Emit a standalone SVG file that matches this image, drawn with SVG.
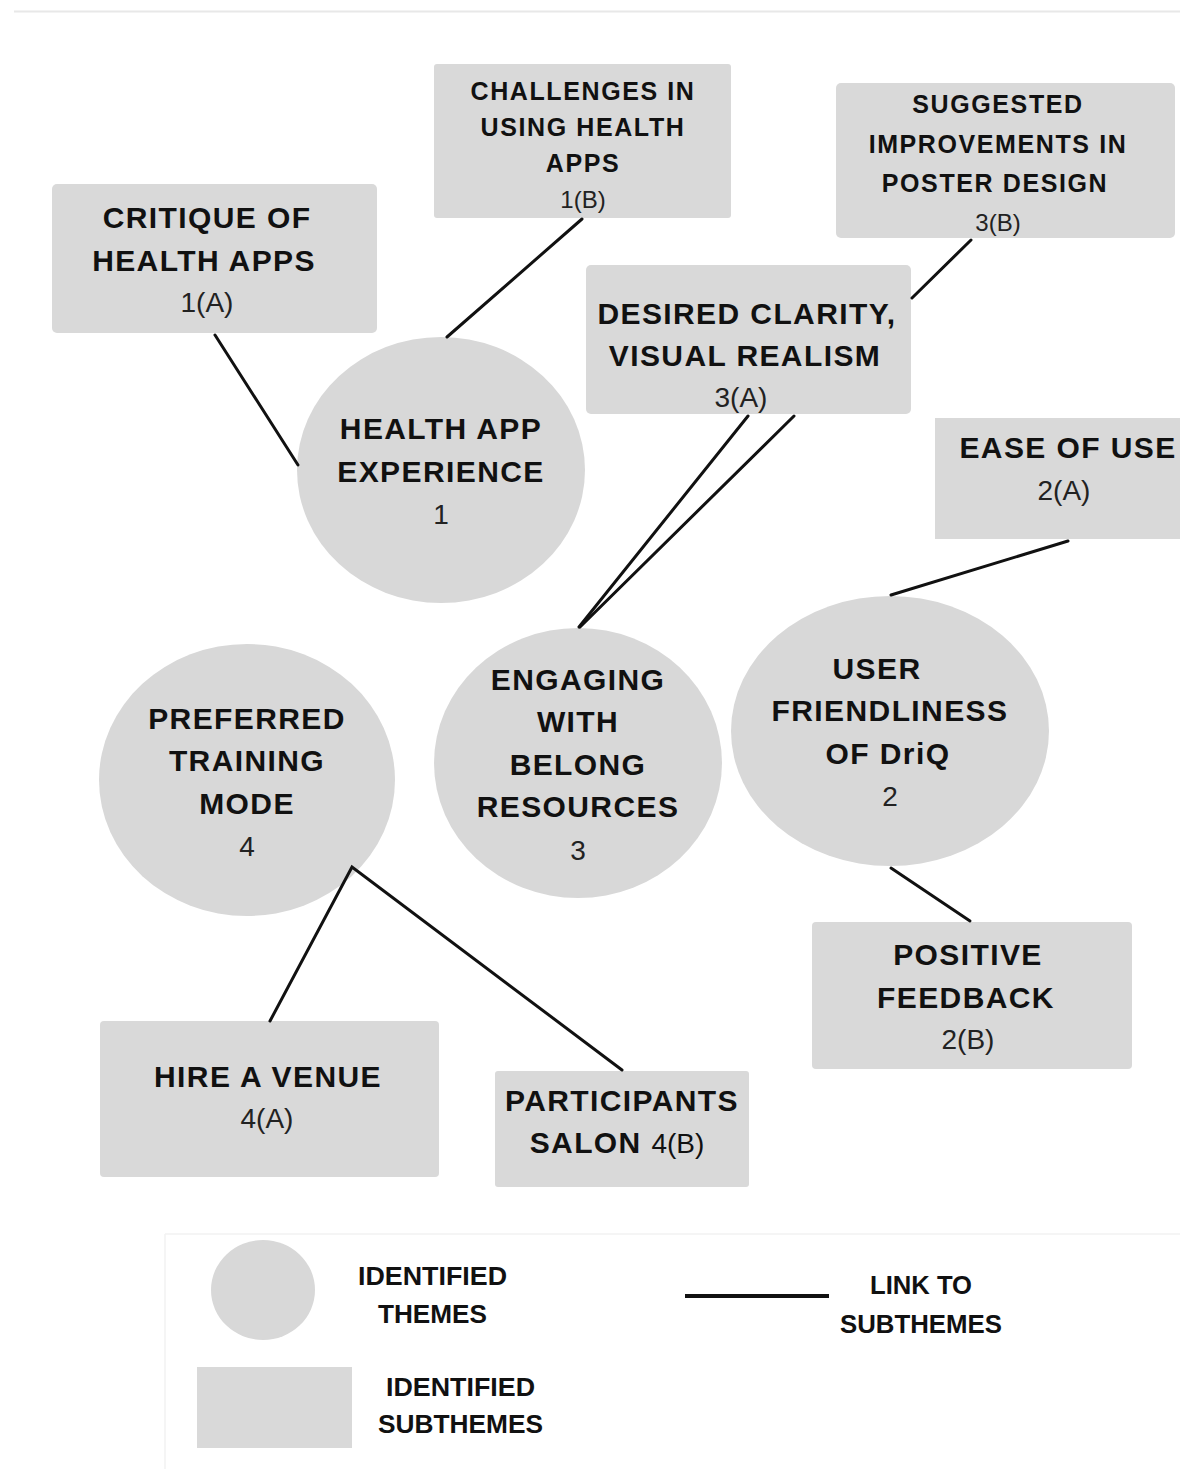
<svg xmlns="http://www.w3.org/2000/svg" width="1180" height="1469" viewBox="0 0 1180 1469">
<style>
.box{fill:#d9d9d9}
.th{fill:#d8d8d8}
.t{font-family:"Liberation Sans",Arial,sans-serif;font-weight:bold;font-size:30px;fill:#111;text-anchor:middle;letter-spacing:1.4px}
.ts{font-family:"Liberation Sans",Arial,sans-serif;font-weight:bold;font-size:25px;fill:#111;text-anchor:middle;letter-spacing:1.6px}
.n{font-family:"Liberation Sans",Arial,sans-serif;font-size:28px;fill:#222;text-anchor:middle}
.ns{font-family:"Liberation Sans",Arial,sans-serif;font-size:24px;fill:#222;text-anchor:middle}
.lg{font-family:"Liberation Sans",Arial,sans-serif;font-weight:bold;font-size:26px;fill:#111}
.ln{stroke:#111;stroke-width:3;fill:none;stroke-linecap:round;stroke-linejoin:miter}
</style>
<rect width="1180" height="1469" fill="#fff"/>
<line x1="14" y1="11.5" x2="1180" y2="11.5" stroke="#e8e8e8" stroke-width="2"/>

<g id="sub1A">
<rect class="box" x="52" y="184" width="325" height="149" rx="5"/>
<text class="t" x="207" y="228">CRITIQUE OF</text>
<text class="t" x="204" y="271">HEALTH APPS</text>
<text class="n" x="207" y="312">1(A)</text>
</g>
<g id="sub1B">
<rect class="box" x="434" y="64" width="297" height="154" rx="3"/>
<text class="ts" x="583" y="100">CHALLENGES IN</text>
<text class="ts" x="583" y="136">USING HEALTH</text>
<text class="ts" x="583" y="172">APPS</text>
<text class="ns" x="583" y="208">1(B)</text>
</g>
<g id="sub3B">
<rect class="box" x="836" y="83" width="339" height="155" rx="5"/>
<text class="ts" x="998" y="113">SUGGESTED</text>
<text class="ts" x="998" y="153">IMPROVEMENTS IN</text>
<text class="ts" x="995" y="192">POSTER DESIGN</text>
<text class="ns" x="998" y="231">3(B)</text>
</g>
<g id="sub3A">
<rect class="box" x="586" y="265" width="325" height="149" rx="5"/>
<text class="t" x="747" y="324">DESIRED CLARITY,</text>
<text class="t" x="745" y="366">VISUAL REALISM</text>
<text class="n" x="741" y="407">3(A)</text>
</g>
<g id="sub2A">
<rect class="box" x="935" y="418" width="245" height="121"/>
<text class="t" x="1068" y="458">EASE OF USE</text>
<text class="n" x="1064" y="500">2(A)</text>
</g>
<g id="sub2B">
<rect class="box" x="812" y="922" width="320" height="147" rx="4"/>
<text class="t" x="968" y="965">POSITIVE</text>
<text class="t" x="966" y="1008">FEEDBACK</text>
<text class="n" x="968" y="1049">2(B)</text>
</g>
<g id="sub4A">
<rect class="box" x="100" y="1021" width="339" height="156" rx="4"/>
<text class="t" x="268" y="1087">HIRE A VENUE</text>
<text class="n" x="267" y="1128">4(A)</text>
</g>
<g id="sub4B">
<rect class="box" x="495" y="1071" width="254" height="116" rx="3"/>
<text class="t" x="622" y="1111">PARTICIPANTS</text>
<text class="t" x="617" y="1153">SALON <tspan style="font-weight:normal;font-size:28px;letter-spacing:0">4(B)</tspan></text>
</g>

<g id="theme1">
<ellipse class="th" cx="441" cy="470" rx="144" ry="133"/>
<text class="t" x="441" y="439">HEALTH APP</text>
<text class="t" x="441" y="482">EXPERIENCE</text>
<text class="n" x="441" y="524">1</text>
</g>
<g id="theme3">
<ellipse class="th" cx="578" cy="763" rx="144" ry="135"/>
<text class="t" x="578" y="690">ENGAGING</text>
<text class="t" x="578" y="732">WITH</text>
<text class="t" x="578" y="775">BELONG</text>
<text class="t" x="578" y="817">RESOURCES</text>
<text class="n" x="578" y="860">3</text>
</g>
<g id="theme2">
<ellipse class="th" cx="890" cy="731" rx="159" ry="135"/>
<text class="t" x="877" y="679">USER</text>
<text class="t" x="890" y="721">FRIENDLINESS</text>
<text class="t" x="888" y="764">OF DriQ</text>
<text class="n" x="890" y="806">2</text>
</g>
<g id="theme4">
<ellipse class="th" cx="247" cy="780" rx="148" ry="136"/>
<text class="t" x="247" y="729">PREFERRED</text>
<text class="t" x="247" y="771">TRAINING</text>
<text class="t" x="247" y="814">MODE</text>
<text class="n" x="247" y="856">4</text>
</g>

<g id="connectors">
<line class="ln" x1="215" y1="335" x2="298" y2="465"/>
<line class="ln" x1="582" y1="219" x2="447" y2="337"/>
<line class="ln" x1="971" y1="240" x2="912" y2="298"/>
<line class="ln" x1="748" y1="416" x2="579" y2="627"/>
<line class="ln" x1="794" y1="416" x2="580" y2="627"/>
<line class="ln" x1="1068" y1="541" x2="891" y2="595"/>
<line class="ln" x1="891" y1="868" x2="970" y2="921"/>
<polyline class="ln" points="270,1021 352,867 622,1070"/>
</g>

<g id="legend">
<line x1="165" y1="1234" x2="1180" y2="1234" stroke="#f2f2f2" stroke-width="1.5"/>
<line x1="165" y1="1234" x2="165" y2="1469" stroke="#f2f2f2" stroke-width="1.5"/>
<ellipse class="th" cx="263" cy="1290" rx="52" ry="50"/>
<text class="lg" x="358" y="1285" textLength="149" lengthAdjust="spacingAndGlyphs">IDENTIFIED</text>
<text class="lg" x="378" y="1323" textLength="109" lengthAdjust="spacingAndGlyphs">THEMES</text>
<line x1="685" y1="1296" x2="829" y2="1296" stroke="#111" stroke-width="4"/>
<text class="lg" x="870" y="1294" textLength="102" lengthAdjust="spacingAndGlyphs">LINK TO</text>
<text class="lg" x="840" y="1333" textLength="162" lengthAdjust="spacingAndGlyphs">SUBTHEMES</text>
<rect class="box" x="197" y="1367" width="155" height="81"/>
<text class="lg" x="386" y="1396" textLength="149" lengthAdjust="spacingAndGlyphs">IDENTIFIED</text>
<text class="lg" x="378" y="1433" textLength="165" lengthAdjust="spacingAndGlyphs">SUBTHEMES</text>
</g>
</svg>
